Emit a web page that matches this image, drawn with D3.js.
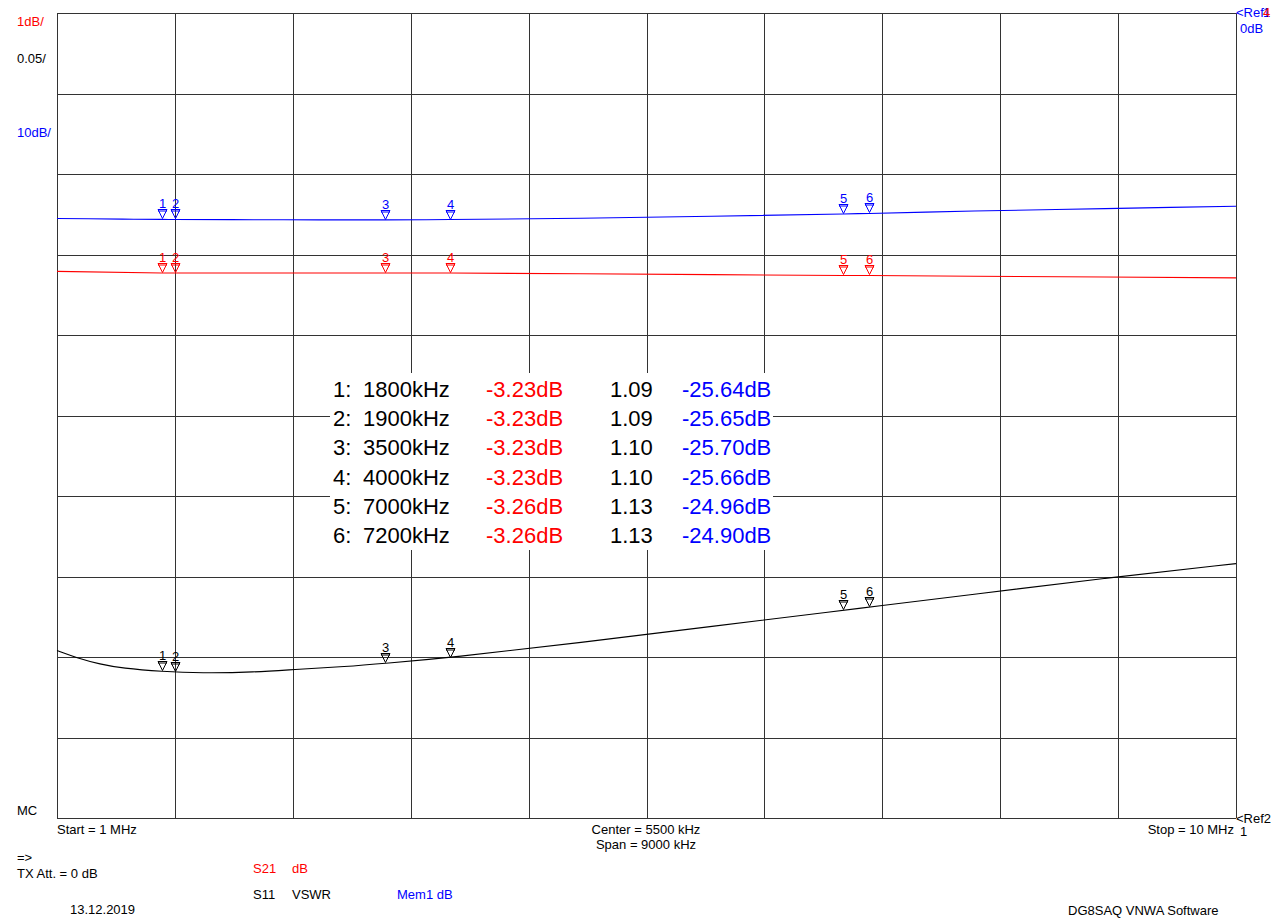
<!DOCTYPE html>
<html>
<head>
<meta charset="utf-8">
<script src="https://cdn.jsdelivr.net/npm/d3@7"></script>
<style>
  body { margin: 0; background: #fff; }
  text { font-family: "Liberation Sans", Arial, sans-serif; }
</style>
</head>
<body>
<svg id="chart" width="1272" height="918"></svg>
<script>
// trace data, frequency in MHz
var freqS21 = [1.0, 1.8, 4.0, 5.0, 6.0, 7.0, 7.2, 8.0, 9.0, 10.0];
var s21dB   = [-3.21, -3.23, -3.23, -3.24, -3.25, -3.26, -3.26, -3.27, -3.28, -3.29];

var freqMem = [1.0, 1.5, 1.8, 1.9, 2.5, 3.0, 3.5, 4.0, 5.0, 6.0, 7.0, 7.2, 8.0, 9.0, 10.0];
var memdB   = [-25.53, -25.6, -25.64, -25.65, -25.68, -25.7, -25.7, -25.66, -25.5, -25.25, -24.96, -24.9, -24.6, -24.3, -24.0];

var freqSwr = [1.0, 1.15, 1.33, 1.5, 1.8, 2.1, 2.5, 2.85, 3.2, 3.5, 4.0, 5.0, 6.0, 7.0, 7.2, 8.0, 9.0, 10.0];
var vswr    = [1.104, 1.0995, 1.0955, 1.093, 1.091, 1.090, 1.0905, 1.0925, 1.094, 1.096, 1.0996, 1.109, 1.119, 1.129, 1.131, 1.139, 1.149, 1.158];

// markers
var markerFreq = [1.8, 1.9, 3.5, 4.0, 7.0, 7.2];
var markerLabel = ["1800kHz", "1900kHz", "3500kHz", "4000kHz", "7000kHz", "7200kHz"];
var markerS21 = ["-3.23dB", "-3.23dB", "-3.23dB", "-3.23dB", "-3.26dB", "-3.26dB"];
var markerSwr = ["1.09", "1.09", "1.10", "1.10", "1.13", "1.13"];
var markerMem = ["-25.64dB", "-25.65dB", "-25.70dB", "-25.66dB", "-24.96dB", "-24.90dB"];

var gridCols = 10, gridRows = 10;

var svg = d3.select("#chart");
var L = 57, R = 1236, T = 13, B = 818;

var x = d3.scaleLinear().domain([1, 10]).range([L, R]);
var yS21 = d3.scaleLinear().domain([0, -10]).range([T, B]);   // 1dB/div, ref 0dB top
var ySwr = d3.scaleLinear().domain([1, 1.5]).range([B, T]);   // 0.05/div, ref 1 bottom
var yMem = d3.scaleLinear().domain([0, -100]).range([T, B]);  // 10dB/div, ref 0dB top

var gridColor = "#333";
var g = svg.append("g").attr("shape-rendering", "crispEdges");
d3.range(gridCols + 1).forEach(function(i){
  var xx = Math.round(L + (R - L) * i / gridCols) + 0.5;
  g.append("line").attr("x1", xx).attr("x2", xx).attr("y1", T).attr("y2", B)
    .attr("stroke", gridColor).attr("stroke-width", 1.3);
});
d3.range(gridRows + 1).forEach(function(i){
  var yy = Math.round(T + (B - T) * i / gridRows) + 0.5;
  g.append("line").attr("x1", L).attr("x2", R).attr("y1", yy).attr("y2", yy)
    .attr("stroke", gridColor).attr("stroke-width", 1.3);
});

function interp(xs, ys, f){
  return d3.scaleLinear().domain(xs).range(ys)(f);
}

var traces = [
  {f: freqMem, v: memdB, y: yMem, color: "#0000ff", curve: d3.curveMonotoneX},
  {f: freqS21, v: s21dB, y: yS21, color: "#ff0000", curve: d3.curveLinear},
  {f: freqSwr, v: vswr, y: ySwr, color: "#000000", curve: d3.curveBasis}
];

traces.forEach(function(t){
  var line = d3.line()
    .x(function(d, i){ return x(t.f[i]); })
    .y(function(d){ return t.y(d); })
    .curve(t.curve);
  svg.append("path").datum(t.v)
    .attr("d", line)
    .attr("fill", "none")
    .attr("stroke", t.color)
    .attr("stroke-width", 1.1);

  markerFreq.forEach(function(f, i){
    var mx = Math.round(x(f)) + 0.5;
    var my = Math.round(t.y(interp(t.f, t.v, f))) - 0.5;
    svg.append("path")
      .attr("d", "M" + (mx - 4.5) + "," + (my - 9) + "L" + (mx + 4.5) + "," + (my - 9) + "L" + mx + "," + my + "Z"
        + "M" + (mx - 4.5) + "," + (my - 7.5) + "L" + (mx + 4.5) + "," + (my - 7.5))
      .attr("fill", "none").attr("stroke", t.color).attr("stroke-width", 1);
    svg.append("text").attr("x", mx).attr("y", my - 11)
      .attr("text-anchor", "middle").attr("font-size", 13).attr("fill", t.color)
      .text(i + 1);
  });
});

// marker table
svg.append("rect").attr("x", 330).attr("y", 373).attr("width", 443).attr("height", 177).attr("fill", "#fff");
var rowY = function(i){ return 397 + i * 29.2; };
var tbl = svg.append("g").attr("font-size", 22);
markerFreq.forEach(function(f, i){
  tbl.append("text").attr("x", 333).attr("y", rowY(i)).attr("fill", "#000").text((i + 1) + ":");
  tbl.append("text").attr("x", 363).attr("y", rowY(i)).attr("fill", "#000").text(markerLabel[i]);
  tbl.append("text").attr("x", 486).attr("y", rowY(i)).attr("fill", "#ff0000").text(markerS21[i]);
  tbl.append("text").attr("x", 610).attr("y", rowY(i)).attr("fill", "#000").text(markerSwr[i]);
  tbl.append("text").attr("x", 682).attr("y", rowY(i)).attr("fill", "#0000ff").text(markerMem[i]);
});

// annotation texts
var txt = svg.append("g").attr("font-size", 13);
function label(x0, y0, s, color, anchor){
  txt.append("text").attr("x", x0).attr("y", y0).attr("fill", color || "#000")
    .attr("text-anchor", anchor || "start").text(s);
}
label(17, 26, "1dB/", "#ff0000");
label(17, 63, "0.05/");
label(17, 137, "10dB/", "#0000ff");
label(1236, 17, "<Ref", "#0000ff");
label(1263, 17, "1", "#0000ff");
label(1263, 17, "4", "#ff0000");
label(1240, 33, "0dB", "#0000ff");
label(1236, 823, "<Ref2");
label(1240, 836, "1");
label(17, 815, "MC");
label(57, 834, "Start = 1 MHz");
label(646, 834, "Center = 5500 kHz", "#000", "middle");
label(646, 849, "Span = 9000 kHz", "#000", "middle");
label(1234, 834, "Stop = 10 MHz", "#000", "end");
label(17, 862, "=>");
label(17, 878, "TX Att.  = 0 dB");
label(70, 914, "13.12.2019");
label(253, 873, "S21", "#ff0000");
label(292, 873, "dB", "#ff0000");
label(253, 899, "S11");
label(292, 899, "VSWR");
label(397, 899, "Mem1 dB", "#0000ff");
label(1068, 915, "DG8SAQ VNWA Software");
</script>
</body>
</html>
